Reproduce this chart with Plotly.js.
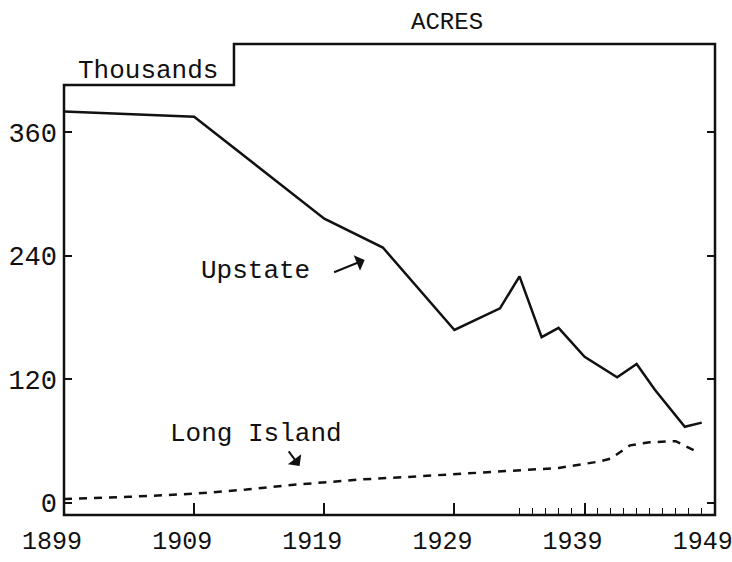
<!DOCTYPE html>
<html>
<head>
<meta charset="utf-8">
<script src="https://cdn.plot.ly/plotly-3.0.1.min.js"></script>
<style>
  html, body { margin: 0; padding: 0; background: #ffffff; }
  #chart { width: 732px; height: 562px; }
</style>
</head>
<body>
<div id="chart"></div>
<script>
// Upstate acreage (thousands)
const upstateYears  = [1899, 1909, 1919, 1923.5, 1929, 1932.5, 1934, 1935.7, 1937, 1939, 1941.5, 1943, 1944.4, 1946.7, 1948];
const upstateValues = [380,  375,  276,  248,    168,  189,    220,  161,    170,  142,  122,    135,  110,    74,     78];

// Long Island acreage (thousands)
const longIslandYears  = [1899, 1904, 1909, 1913, 1916, 1919, 1922, 1925, 1929, 1932, 1935, 1937, 1940, 1941, 1942.5, 1944, 1946, 1946.5, 1947.6];
const longIslandValues = [4,    6,    9,    13,   17,   20,   23,   25,   28,   30,   32,   34,   40,   43,   56,     59,   60,   57,     50];

// Axis ticks
const xTickVals = [1899, 1909, 1919, 1929, 1939, 1949];
const xTickText = ['1899', '1909', '1919', '1929', '1939', '1949'];
const xMinorTicks = [1934, 1935, 1936, 1937, 1938, 1940, 1941, 1942, 1943, 1944, 1945, 1946, 1947, 1948];
const yTickVals = [0, 120, 240, 360];
const yTickText = ['0', '120', '240', '360'];

const ink = '#111111';
const typeFont = 'Liberation Mono, Courier New, monospace';

const traces = [
  {
    x: upstateYears, y: upstateValues, type: 'scatter', mode: 'lines',
    line: {color: ink, width: 2.5}, name: 'Upstate', hoverinfo: 'skip'
  },
  {
    x: longIslandYears, y: longIslandValues, type: 'scatter', mode: 'lines',
    line: {color: ink, width: 2.5, dash: '8px,7px'}, name: 'Long Island', hoverinfo: 'skip'
  }
];

const layout = {
  width: 732, height: 562,
  margin: {l: 64, r: 17, t: 44, b: 47, pad: 0},
  paper_bgcolor: '#ffffff', plot_bgcolor: '#ffffff',
  showlegend: false,
  title: {
    text: 'ACRES', x: 0.6107, xref: 'container', xanchor: 'center',
    y: 0.964, yref: 'container', yanchor: 'middle',
    font: {family: typeFont, size: 24, color: ink}
  },
  xaxis: {
    range: [1899, 1949.02], showgrid: false, zeroline: false, showline: false,
    tickmode: 'array', tickvals: xTickVals, ticktext: xTickText,
    ticks: 'inside', ticklen: 12, tickwidth: 2, tickcolor: ink,
    ticklabelshift: -12, ticklabelstandoff: 8, ticklabeloverflow: 'allow',
    tickfont: {family: typeFont, size: 25, color: ink},
    minor: {tickmode: 'array', tickvals: xMinorTicks, ticks: 'inside', ticklen: 7, tickwidth: 1.5, tickcolor: ink, showgrid: false}
  },
  yaxis: {
    range: [-11.65, 445.6], showgrid: false, zeroline: false, showline: false,
    tickmode: 'array', tickvals: yTickVals, ticktext: yTickText,
    ticks: 'inside', ticklen: 8, tickwidth: 2, tickcolor: ink, mirror: 'ticks',
    ticklabelstandoff: 6,
    tickfont: {family: typeFont, size: 27, color: ink}
  },
  shapes: [
    {
      type: 'path', xref: 'paper', yref: 'paper',
      path: 'M 0,0 L 0,0.913 L 0.2611,0.913 L 0.2611,1 L 1,1 L 1,0 Z',
      line: {color: ink, width: 2.5}, fillcolor: 'rgba(0,0,0,0)'
    }
  ],
  annotations: [
    {
      text: 'Thousands', xref: 'paper', yref: 'paper', x: 0.129, y: 0.9427,
      xanchor: 'center', yanchor: 'middle', showarrow: false,
      font: {family: typeFont, size: 26, color: ink}
    },
    {
      text: 'Upstate', xref: 'x', yref: 'y', x: 1913.75, y: 225,
      xanchor: 'center', yanchor: 'middle', showarrow: false,
      font: {family: typeFont, size: 26, color: ink}
    },
    {
      text: '', xref: 'x', yref: 'y', x: 1922.1, y: 236,
      showarrow: true, ax: -32, ay: 13, arrowhead: 1, arrowsize: 1.4, arrowwidth: 2, arrowcolor: ink
    },
    {
      text: 'Long Island', xref: 'x', yref: 'y', x: 1913.75, y: 67,
      xanchor: 'center', yanchor: 'middle', showarrow: false,
      font: {family: typeFont, size: 26, color: ink}
    },
    {
      text: '', xref: 'x', yref: 'y', x: 1917.1, y: 36,
      showarrow: true, ax: -12, ay: -16, arrowhead: 1, arrowsize: 1.4, arrowwidth: 2, arrowcolor: ink
    }
  ]
};

Plotly.newPlot('chart', traces, layout, {staticPlot: true, displayModeBar: false});
</script>
</body>
</html>
